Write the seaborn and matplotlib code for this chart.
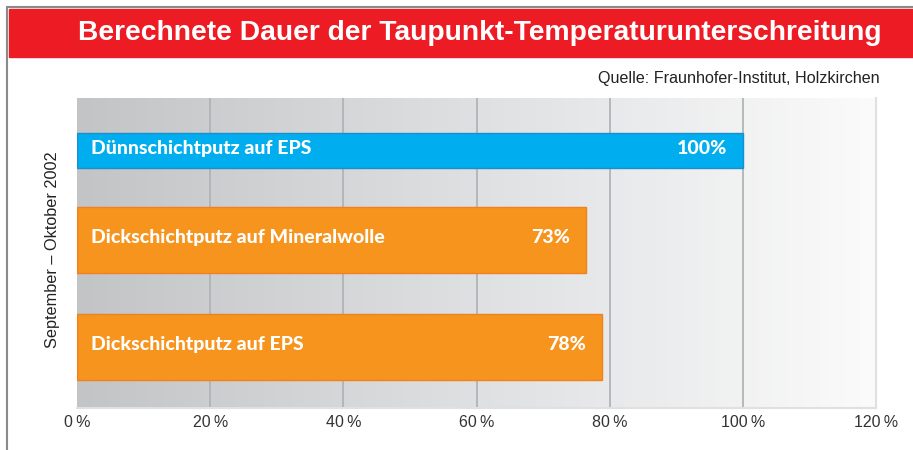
import matplotlib
matplotlib.use("Agg")
import matplotlib.pyplot as plt
import seaborn as sns
import numpy as np
from matplotlib.colors import LinearSegmentedColormap
from matplotlib.patches import Rectangle
from matplotlib.lines import Line2D

# data
categories = ["Dünnschichtputz auf EPS", "Dickschichtputz auf Mineralwolle", "Dickschichtputz auf EPS"]
values = [100, 76.4, 78.8]
value_labels = ["100%", "73%", "78%"]
bar_colors = ["#00aeef", "#f7941d", "#f7941d"]
edge_colors = ["#1a8fd0", "#f08020", "#f08020"]
xticks = [0, 20, 40, 60, 80, 100, 120]

# layout of the bars (category units)
bar_pos = [0, 0.91, 2]
bar_h = [0.35, 0.67, 0.68]

sns.set_style("white")
plt.rcParams['font.family'] = ['Liberation Sans', 'DejaVu Sans']

fig = plt.figure(figsize=(9.13, 4.5), dpi=100)
ax = fig.add_axes([77 / 913, 1 - 408 / 450, 799 / 913, 310 / 450])

sns.barplot(x=values, y=categories, hue=categories, palette=bar_colors,
            saturation=1, orient="h", legend=False, ax=ax, zorder=3)

for p, pos, h, ec in zip(ax.patches, bar_pos, bar_h, edge_colors):
    p.set_y(pos - h / 2)
    p.set_height(h)
    p.set_edgecolor(ec)
    p.set_linewidth(1.0)

ylim = (2.621, -0.534)
ax.set_xlim(0, 120)
ax.set_ylim(*ylim)

# gradient background
cmap = LinearSegmentedColormap.from_list("bg", ["#c3c4c6", "#dfe0e2", "#fbfbfb"])
grad = np.linspace(0, 1, 256).reshape(1, -1)
ax.imshow(grad, cmap=cmap, aspect="auto", extent=[0, 120, ylim[0], ylim[1]], zorder=0)

for x in xticks[1:-1]:
    ax.axvline(x, color="#b2b3b6", lw=1.3, zorder=1)

# bar texts
for name, lab, val, pos in zip(categories, value_labels, values, bar_pos):
    ax.annotate(name, (0, pos), xytext=(10, 1.5), textcoords="offset points",
                ha="left", va="center", color="white", fontsize=14,
                fontweight="black", family=["Lato", "DejaVu Sans"], zorder=4)
    ax.annotate(lab, (val, pos), xytext=(-11, 1.5), textcoords="offset points",
                ha="right", va="center", color="white", fontsize=14,
                fontweight="black", family=["Lato", "DejaVu Sans"], zorder=4)

ax.set_yticks([])
ax.set_ylabel("")
ax.set_xticks(xticks)
ax.set_xticklabels([f"{t}\u2009%" for t in xticks], fontsize=11.5, color="#333333")
ax.tick_params(axis="x", length=0, pad=5)
for s in ["left", "top"]:
    ax.spines[s].set_visible(False)
for s in ["right", "bottom"]:
    ax.spines[s].set_color("#e0e0e0")
    ax.spines[s].set_linewidth(1.5)

# frame and title banner
fig.patches.append(Rectangle((9 / 913, 1 - 57 / 450), 1, 48 / 450,
                             transform=fig.transFigure, color="#ed1c24", zorder=0))
fig.lines.append(Line2D([7 / 913, 1], [1 - 7 / 450, 1 - 7 / 450],
                        transform=fig.transFigure, color="#8a8a8a", lw=1.5))
fig.lines.append(Line2D([7 / 913, 7 / 913], [0, 1 - 7 / 450],
                        transform=fig.transFigure, color="#8a8a8a", lw=1.5))

fig.text(480 / 913, 1 - 33 / 450, "Berechnete Dauer der Taupunkt-Temperaturunterschreitung",
         ha="center", va="center", color="white", fontsize=20.3, fontweight="bold",
         family=["Liberation Sans", "DejaVu Sans"])
fig.text(880 / 913, 1 - 78 / 450, "Quelle: Fraunhofer-Institut, Holzkirchen",
         ha="right", va="center", color="#222222", fontsize=11.6)
fig.text(52 / 913, 1 - 250 / 450, "September – Oktober 2002", rotation=90,
         ha="center", va="center", color="#222222", fontsize=11.7)

fig.savefig("out.png", dpi=100)
